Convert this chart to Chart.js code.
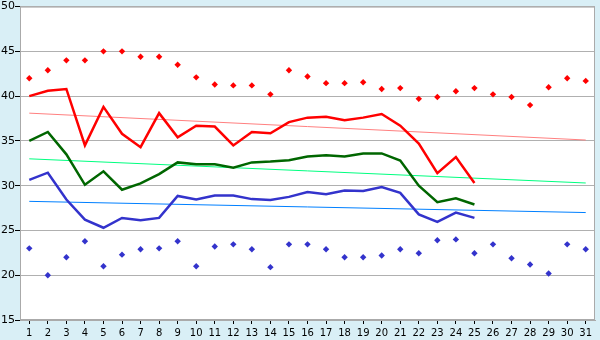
<!DOCTYPE html>
<html>
<head>
<meta charset="utf-8">
<script src="https://cdn.jsdelivr.net/npm/chart.js@4"></script>
<style>
  html, body { margin: 0; padding: 0; background: #d9eff6; }
  #wrap { width: 600px; height: 340px; }
</style>
</head>
<body>
<div id="wrap"><canvas id="tempChart"></canvas></div>
<script>
const days = ['1','2','3','4','5','6','7','8','9','10','11','12','13','14','15','16',
              '17','18','19','20','21','22','23','24','25','26','27','28','29','30','31'];

const maxPoints = [42.0, 42.9, 44.0, 44.0, 45.0, 45.0, 44.4, 44.4, 43.5, 42.1, 41.3, 41.2, 41.2, 40.2, 42.9, 42.2,
                   41.45, 41.45, 41.55, 40.8, 40.9, 39.7, 39.9, 40.55, 40.9, 40.2, 39.9, 39.0, 41.0, 42.0, 41.7];
const minPoints = [23.0, 20.0, 22.0, 23.8, 21.0, 22.3, 22.9, 23.0, 23.8, 21.0, 23.2, 23.45, 22.9, 20.9, 23.45, 23.45,
                   22.9, 22.0, 22.0, 22.2, 22.9, 22.45, 23.9, 24.0, 22.45, 23.45, 21.9, 21.2, 20.2, 23.45, 22.9];

const redLine = [40.0, 40.6, 40.8, 34.5, 38.8, 35.8, 34.3, 38.1, 35.4, 36.7, 36.6, 34.5, 36.0, 35.85, 37.1, 37.6,
                 37.7, 37.3, 37.6, 38.0, 36.7, 34.7, 31.4, 33.2, 30.3];
const greenLine = [35.0, 36.0, 33.5, 30.1, 31.6, 29.55, 30.25, 31.3, 32.6, 32.4, 32.4, 32.0, 32.6, 32.7, 32.85, 33.25,
                   33.4, 33.25, 33.6, 33.6, 32.8, 30.0, 28.15, 28.6, 27.9];
const blueLine = [30.65, 31.45, 28.45, 26.2, 25.3, 26.4, 26.15, 26.4, 28.85, 28.45, 28.9, 28.9, 28.5, 28.4, 28.75, 29.3,
                  29.05, 29.45, 29.4, 29.85, 29.2, 26.8, 25.95, 27.0, 26.4];

// trend lines: value at day 1 and at day 31
const redTrend = [38.1, 35.1];
const greenTrend = [33.0, 30.3];
const blueTrend = [28.25, 27.0];

const yTicks = [15, 20, 25, 30, 35, 40, 45, 50];

function trendData(ends) {
    const arr = days.map(() => null);
    arr[0] = ends[0];
    arr[days.length - 1] = ends[1];
    return arr;
}

const plotFrame = {
    id: 'plotFrame',
    beforeDraw(chart) {
        const a = chart.chartArea, ctx = chart.ctx;
        ctx.save();
        ctx.fillStyle = '#ffffff';
        ctx.fillRect(a.left, a.top, a.right - a.left, a.bottom - a.top);
        ctx.restore();
    },
    afterDraw(chart) {
        const a = chart.chartArea, ctx = chart.ctx;
        ctx.save();
        ctx.strokeStyle = '#aaaaaa';
        ctx.lineWidth = 1;
        ctx.strokeRect(a.left + 0.5, a.top + 0.5, a.right - a.left - 1, a.bottom - a.top - 1);
        ctx.restore();
    }
};

const lineStyle = (color, width) => ({
    borderColor: color,
    backgroundColor: color,
    borderWidth: width,
    pointRadius: 0,
    tension: 0,
    fill: false
});

const ctx = document.getElementById('tempChart').getContext('2d');
new Chart(ctx, {
    type: 'line',
    data: {
        labels: days,
        datasets: [
            { data: redLine, ...lineStyle('#ff0000', 2.5) },
            { data: greenLine, ...lineStyle('#006600', 2.5) },
            { data: blueLine, ...lineStyle('#3333cc', 2.5) },
            { data: maxPoints, showLine: false, pointStyle: 'rectRot', pointRadius: 3.2,
              pointBackgroundColor: '#ff0000', pointBorderWidth: 0, borderColor: '#ff0000' },
            { data: minPoints, showLine: false, pointStyle: 'rectRot', pointRadius: 3.2,
              pointBackgroundColor: '#3333cc', pointBorderWidth: 0, borderColor: '#3333cc' },
            { data: trendData(redTrend), spanGaps: true, ...lineStyle('#ff8080', 1) },
            { data: trendData(greenTrend), spanGaps: true, ...lineStyle('#00ff80', 1) },
            { data: trendData(blueTrend), spanGaps: true, ...lineStyle('#0080ff', 1) }
        ]
    },
    options: {
        responsive: true,
        maintainAspectRatio: false,
        animation: false,
        layout: { padding: { top: 5, right: 5, left: 0, bottom: 0 } },
        plugins: {
            legend: { display: false },
            tooltip: { enabled: false }
        },
        scales: {
            x: {
                offset: true,
                grid: { display: true, drawOnChartArea: false, offset: false, tickLength: 4, tickColor: '#000000' },
                border: { color: '#aaaaaa' },
                ticks: { color: '#000000', padding: 3, maxRotation: 0, autoSkip: false,
                         font: { family: 'DejaVu Sans', size: 10 } },
                afterFit(scale) { scale.height = 20; }
            },
            y: {
                min: yTicks[0],
                max: yTicks[yTicks.length - 1],
                afterBuildTicks(scale) { scale.ticks = yTicks.map(v => ({ value: v })); },
                grid: { color: '#b0b0b0', tickLength: 5, tickColor: '#000000' },
                border: { color: '#aaaaaa' },
                ticks: { color: '#000000', padding: 0, font: { family: 'DejaVu Sans', size: 11 } },
                afterFit(scale) { scale.width = 20; }
            }
        }
    },
    plugins: [plotFrame]
});
</script>
</body>
</html>
